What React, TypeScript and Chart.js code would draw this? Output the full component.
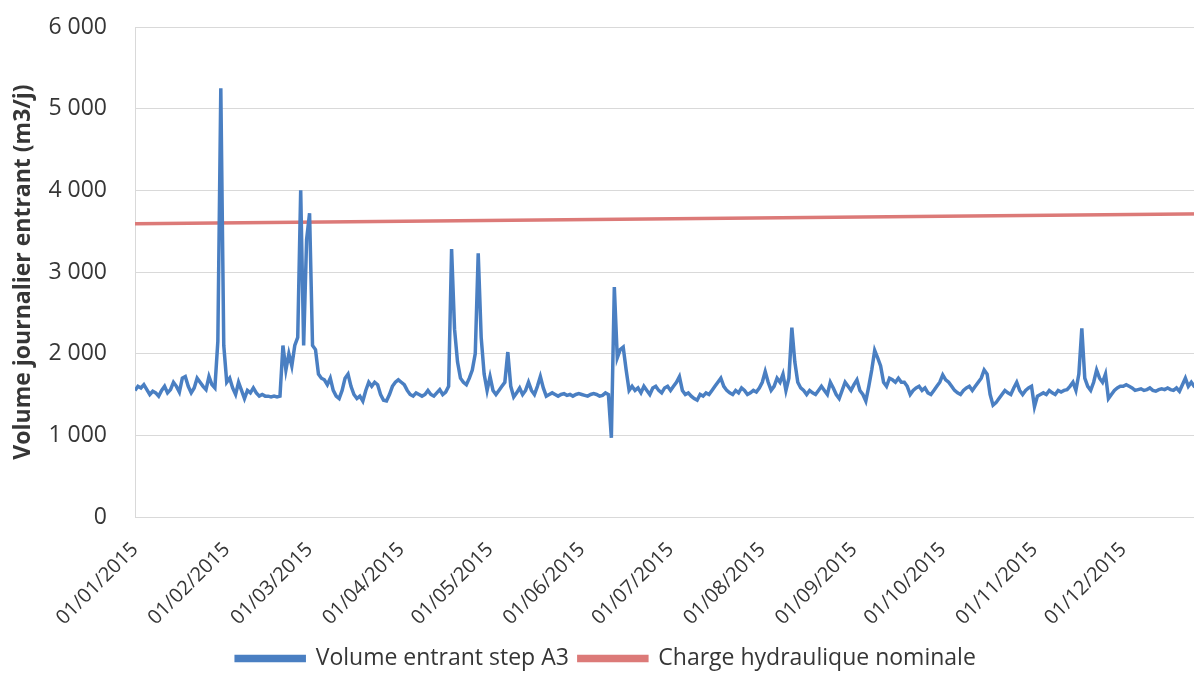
import React, { useEffect, useRef } from "react";
import { Chart, registerables } from "chart.js";

Chart.register(...registerables);

// Daily inflow volume (m3/j), 2015
const volJan = [1550,1600,1580,1620,1560,1500,1540,1520,1480,1550,1600,1520,1560,1650,1600,1530,1700,1720,1600,1520,1580,1700,1650,1600,1560,1720,1620,1580,2150,5250,2100];
const volFeb = [1650,1700,1580,1500,1650,1550,1450,1550,1520,1580,1520,1480,1500,1480,1480,1470,1480,1470,1480,2100,1800,2000,1850,2100,2200,4000,2100,3400];
const volMar = [3720,2100,2050,1750,1700,1680,1620,1700,1550,1480,1450,1550,1700,1750,1600,1500,1450,1480,1420,1550,1650,1600,1650,1620,1500,1430,1420,1500,1600,1650,1680];
const volApr = [1650,1620,1550,1500,1480,1520,1500,1480,1500,1550,1500,1480,1520,1560,1500,1530,1600,3280,2300,1900,1700,1650,1620,1700,1800,2000,3230,2200,1750,1550];
const volMay = [1720,1550,1500,1550,1600,1650,2020,1600,1470,1520,1580,1500,1550,1650,1550,1500,1600,1720,1580,1480,1500,1520,1500,1480,1500,1510,1490,1500,1480,1500,1510];
const volJun = [1500,1490,1480,1500,1510,1500,1480,1490,1520,1500,970,2815,1950,2050,2080,1800,1550,1600,1550,1580,1520,1600,1550,1500,1580,1600,1550,1520,1580,1600];
const volJul = [1550,1600,1650,1720,1550,1500,1520,1480,1450,1430,1500,1480,1520,1500,1550,1600,1650,1700,1600,1550,1520,1500,1550,1520,1580,1550,1500,1520,1550,1530,1580];
const volAug = [1650,1780,1650,1550,1600,1700,1650,1750,1550,1700,2320,1900,1650,1580,1550,1500,1550,1520,1500,1550,1600,1550,1500,1650,1580,1500,1450,1550,1650,1600,1550];
const volSep = [1620,1680,1550,1500,1420,1600,1800,2040,1950,1850,1650,1600,1700,1680,1650,1700,1650,1650,1600,1500,1550,1580,1600,1550,1580,1520,1500,1550,1600,1650];
const volOct = [1740,1680,1650,1600,1550,1520,1500,1550,1580,1600,1550,1600,1650,1700,1800,1750,1500,1370,1400,1450,1500,1550,1520,1500,1580,1650,1550,1500,1550,1580,1600];
const volNov = [1350,1480,1500,1520,1500,1550,1520,1500,1550,1530,1550,1560,1600,1650,1550,1750,2310,1700,1600,1550,1650,1800,1700,1650,1750,1450,1500,1550,1580,1600];
const volDec = [1600,1620,1600,1580,1550,1560,1570,1550,1560,1580,1550,1540,1560,1570,1560,1580,1560,1550,1580,1540,1620,1700,1600,1650,1600,1580,1620,1600,1580,1600,1620];

const volumes = [
  ...volJan, ...volFeb, ...volMar, ...volApr, ...volMay, ...volJun,
  ...volJul, ...volAug, ...volSep, ...volOct, ...volNov, ...volDec,
];

// Nominal hydraulic load line (start / end of year)
const nominalDays = [0, 364];
const nominalValues = [3590, 3712];

// Month-start day indices and their labels
const monthStartDays = [0, 31, 59, 90, 120, 151, 181, 212, 243, 273, 304, 334];
const monthLabels = [
  "01/01/2015", "01/02/2015", "01/03/2015", "01/04/2015", "01/05/2015", "01/06/2015",
  "01/07/2015", "01/08/2015", "01/09/2015", "01/10/2015", "01/11/2015", "01/12/2015",
];

const yTicks = [0, 1000, 2000, 3000, 4000, 5000, 6000];

const seriesNames = ["Volume entrant step A3", "Charge hydraulique nominale"];
const yTitle = "Volume journalier entrant (m3/j)";

const FONT = "'Open Sans', 'Noto Sans', sans-serif";
const TEXT = "#363636";
const GRID = "#d9d9d9";
const BLUE = "#4a7fc2";
const RED = "#dc7a78";

function fmt(v: number): string {
  return String(v).replace(/\B(?=(\d{3})+(?!\d))/g, " ");
}

export default function App() {
  const ref = useRef<HTMLCanvasElement | null>(null);

  useEffect(() => {
    if (!ref.current) return;
    const chart = new Chart(ref.current, {
      type: "line",
      data: {
        datasets: [
          {
            label: seriesNames[0],
            data: volumes.map((v, i) => ({ x: i, y: v })),
            borderColor: BLUE,
            backgroundColor: BLUE,
            borderWidth: 3.5,
            pointRadius: 0,
            tension: 0,
          },
          {
            label: seriesNames[1],
            data: nominalDays.map((d, i) => ({ x: d, y: nominalValues[i] })),
            borderColor: RED,
            backgroundColor: RED,
            borderWidth: 3.5,
            pointRadius: 0,
          },
        ],
      },
      options: {
        animation: false,
        responsive: true,
        maintainAspectRatio: false,
        layout: { padding: { top: 27, right: 24, left: 0, bottom: -7 } },
        plugins: {
          legend: {
            position: "bottom",
            labels: {
              boxWidth: 68,
              boxHeight: 4,
              padding: 10,
              color: TEXT,
              font: { family: FONT, size: 23 },
            },
          },
          tooltip: { enabled: false },
        },
        scales: {
          x: {
            type: "linear",
            min: 0,
            max: 364,
            afterBuildTicks: (scale: any) => {
              scale.ticks = monthStartDays.map((v) => ({ value: v }));
            },
            afterFit: (scale: any) => {
              scale.height = 120;
              scale.paddingLeft = 0;
              scale.paddingRight = 0;
            },
            grid: { display: false, drawTicks: false },
            border: { display: true, color: GRID, width: 1 },
            ticks: {
              autoSkip: false,
              minRotation: 45,
              maxRotation: 45,
              padding: 21,
              color: TEXT,
              font: { family: FONT, size: 20 },
              callback: (value: any) => {
                const idx = monthStartDays.indexOf(Number(value));
                return idx >= 0 ? monthLabels[idx] : "";
              },
            },
          },
          y: {
            min: 0,
            max: 6000,
            afterBuildTicks: (scale: any) => {
              scale.ticks = yTicks.map((v) => ({ value: v }));
            },
            afterFit: (scale: any) => {
              scale.width = 135;
              scale.paddingTop = 0;
              scale.paddingBottom = 0;
            },
            grid: { color: GRID, lineWidth: 1, drawTicks: false },
            border: { display: true, color: GRID, width: 1 },
            ticks: {
              padding: 28,
              color: TEXT,
              font: { family: FONT, size: 23 },
              callback: (value: any) => fmt(Number(value)),
            },
            title: {
              display: true,
              text: yTitle,
              color: TEXT,
              font: { family: FONT, size: 23, weight: "bold" },
              padding: { top: 10, bottom: 4 },
            },
          },
        },
      },
    });
    return () => chart.destroy();
  }, []);

  return (
    <div
      style={{
        position: "fixed",
        left: 0,
        top: 0,
        width: 1194,
        height: 673,
        overflow: "hidden",
        background: "#ffffff",
      }}
    >
      <div style={{ position: "relative", width: 1236, height: 673 }}>
        <canvas ref={ref} />
      </div>
    </div>
  );
}
